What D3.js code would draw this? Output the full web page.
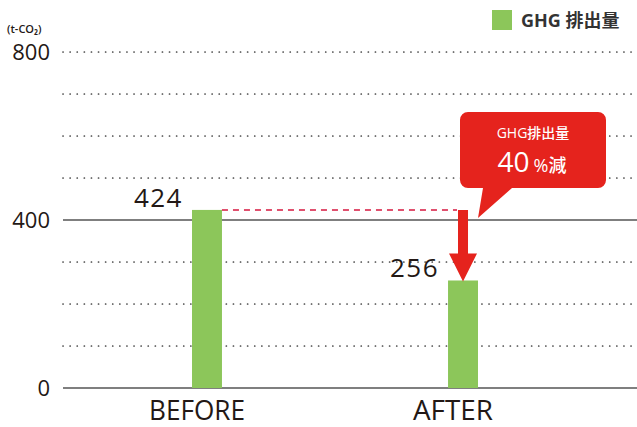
<!DOCTYPE html>
<html>
<head>
<meta charset="utf-8">
<script src="https://cdn.jsdelivr.net/npm/d3@7"></script>
<style>
  body { margin: 0; background: #fff; }
  text { font-family: "Open Sans", "Noto Sans CJK JP", sans-serif; fill: #231815; }
</style>
</head>
<body>
<div id="main"></div>
<script>
const ctx = {
    w: 637,
    h: 427,
};

const categories = ["BEFORE", "AFTER"];
const values = [424, 256];
const labelTicks = [0, 400, 800];
const gridTicks = [100, 200, 300, 400, 500, 600, 700, 800];
const solidTicks = [0, 400];
const unitLabel = "(t-CO\u2082)";
const legendLabel = "GHG 排出量";
const calloutTitle = "GHG排出量";
const calloutValue = "40";
const calloutUnit = "%減";

const green = "#8cc65a";
const red = "#e5231d";

function createChart(svg) {
    let y = d3.scaleLinear().domain([0, 800]).range([388, 52]);
    let x = d3.scaleBand().domain(categories)
        .range([64, 606])
        .paddingInner(0.883)
        .paddingOuter(0.5);

    // dotted grid
    svg.selectAll(".grid")
        .data(gridTicks.filter(d => !solidTicks.includes(d)))
        .enter().append("line")
        .attr("x1", 63).attr("x2", ctx.w)
        .attr("y1", d => y(d)).attr("y2", d => y(d))
        .attr("stroke", "#444")
        .attr("stroke-width", 1.7)
        .attr("stroke-linecap", "round")
        .attr("stroke-dasharray", "0.1,7");

    svg.selectAll(".solid")
        .data(solidTicks)
        .enter().append("line")
        .attr("x1", 63).attr("x2", ctx.w)
        .attr("y1", d => y(d)).attr("y2", d => y(d))
        .attr("stroke", "#555")
        .attr("stroke-width", 1.3);

    // tick labels
    svg.selectAll(".tick")
        .data(labelTicks)
        .enter().append("text")
        .attr("x", 50)
        .attr("y", d => y(d) + 8)
        .attr("text-anchor", "end")
        .style("font-size", "22px")
        .text(d => d);

    svg.append("text")
        .attr("x", 7).attr("y", 33)
        .style("font-size", "11px")
        .style("font-weight", "600")
        .text(unitLabel);

    // bars
    svg.selectAll(".bar")
        .data(values)
        .enter().append("rect")
        .attr("x", (d, i) => x(categories[i]))
        .attr("width", x.bandwidth())
        .attr("y", d => y(d))
        .attr("height", d => y(0) - y(d))
        .attr("fill", green);

    // value labels
    svg.selectAll(".val")
        .data(values)
        .enter().append("text")
        .attr("x", (d, i) => x(categories[i]) - 9)
        .attr("y", d => y(d) - 3)
        .attr("text-anchor", "end")
        .style("font-size", "26px")
        .style("letter-spacing", "1.5px")
        .text(d => d);

    // category labels (sit slightly left of the bar centres)
    svg.selectAll(".cat")
        .data(categories)
        .enter().append("text")
        .attr("x", d => x(d) + x.bandwidth() / 2 - 10)
        .attr("y", 420)
        .attr("text-anchor", "middle")
        .style("font-size", "27px")
        .attr("textLength", d => d === "BEFORE" ? 96 : 80)
        .attr("lengthAdjust", "spacingAndGlyphs")
        .text(d => d);

    // dashed reference line from BEFORE level
    let ax = x("AFTER") + x.bandwidth() / 2;
    svg.append("line")
        .attr("x1", x("BEFORE") + x.bandwidth())
        .attr("x2", ax - 6)
        .attr("y1", y(values[0])).attr("y2", y(values[0]))
        .attr("stroke", "#e0506e")
        .attr("stroke-width", 2)
        .attr("stroke-dasharray", "6,5");

    // arrow down
    let top = y(values[0]), bot = y(values[1]);
    svg.append("path")
        .attr("d", d3.line()([
            [ax - 5, top], [ax + 5, top], [ax + 5, bot - 27], [ax + 14, bot - 27],
            [ax, bot + 1], [ax - 14, bot - 27], [ax - 5, bot - 27]
        ]) + "Z")
        .attr("fill", red);

    // callout
    let bx = 460, by = 112, bw = 146, bh = 76, r = 8;
    let p = d3.path();
    p.moveTo(bx + r, by);
    p.lineTo(bx + bw - r, by);
    p.arcTo(bx + bw, by, bx + bw, by + r, r);
    p.lineTo(bx + bw, by + bh - r);
    p.arcTo(bx + bw, by + bh, bx + bw - r, by + bh, r);
    p.lineTo(bx + 52, by + bh);
    p.lineTo(ax + 15, y(values[0]) + 8);
    p.lineTo(bx + 23, by + bh);
    p.lineTo(bx + r, by + bh);
    p.arcTo(bx, by + bh, bx, by + bh - r, r);
    p.lineTo(bx, by + r);
    p.arcTo(bx, by, bx + r, by, r);
    p.closePath();
    svg.append("path").attr("d", p.toString()).attr("fill", red);

    svg.append("text")
        .attr("x", 533).attr("y", 138)
        .attr("text-anchor", "middle")
        .style("font-size", "14px")
        .style("font-weight", "500")
        .style("fill", "#fff")
        .text(calloutTitle);

    let t = svg.append("text")
        .attr("x", 532).attr("y", 172)
        .attr("text-anchor", "middle")
        .style("fill", "#fff");
    t.append("tspan").style("font-size", "28px").style("font-weight", "500").text(calloutValue);
    t.append("tspan").attr("dx", 4).style("font-size", "18px").style("font-weight", "500").text(calloutUnit);

    // legend
    svg.append("rect")
        .attr("x", 492).attr("y", 10)
        .attr("width", 20).attr("height", 20)
        .attr("fill", green);
    svg.append("text")
        .attr("x", 521).attr("y", 27)
        .style("font-size", "18px")
        .style("font-weight", "700")
        .style("fill", "#333")
        .text(legendLabel);
}

function createViz() {
    let svgEl = d3.select("#main").append("svg");
    svgEl.attr("width", ctx.w);
    svgEl.attr("height", ctx.h);
    createChart(svgEl);
}

createViz();
</script>
</body>
</html>
